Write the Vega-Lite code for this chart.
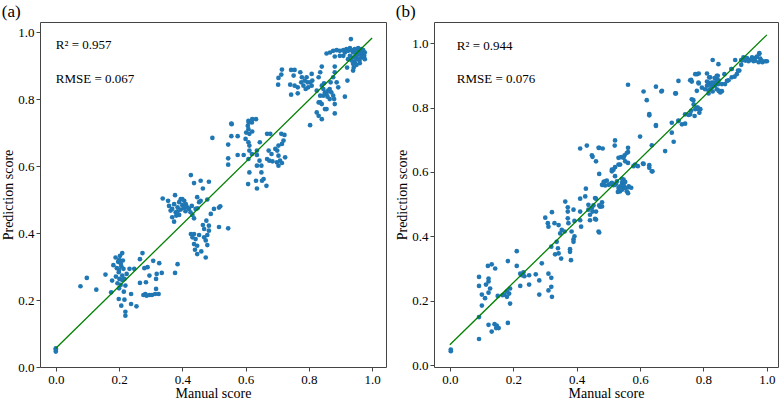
{
"$schema": "https://vega.github.io/schema/vega-lite/v6.json",
"padding": {"left": 1, "top": 2, "right": 5, "bottom": 0},
"background": "white",
"spacing": 8,
"config": {
 "font": "Liberation Serif",
 "view": {"stroke": "#444", "strokeWidth": 1},
 "axis": {"grid": false, "domain": false, "tickColor": "#444", "tickSize": 4, "labelFont": "Liberation Serif", "labelFontSize": 13, "labelColor": "black", "titleFont": "Liberation Serif", "titleFontSize": 14, "titleFontWeight": "normal", "titleColor": "black", "labelPadding": 2, "titlePadding": 2},
 "axisX": {"titlePadding": 0, "labelPadding": 2},
 "title": {"font": "Liberation Serif", "fontSize": 17, "fontWeight": "normal", "anchor": "start", "frame": "bounds", "offset": 1, "color": "black"}
},
"datasets": {
 "a": [
  {"x":0,"y":0.052},{"x":0,"y":0.046},{"x":0,"y":0.056},
  {"x":0.078,"y":0.241},{"x":0.098,"y":0.266},{"x":0.128,"y":0.231},{"x":0.157,"y":0.276},{"x":0.175,"y":0.223},{"x":0.178,"y":0.258},{"x":0.182,"y":0.304},{"x":0.189,"y":0.327},{"x":0.193,"y":0.295},{"x":0.197,"y":0.314},{"x":0.199,"y":0.283},{"x":0.201,"y":0.263},{"x":0.203,"y":0.332},{"x":0.207,"y":0.301},{"x":0.21,"y":0.34},{"x":0.21,"y":0.273},{"x":0.212,"y":0.318},{"x":0.214,"y":0.293},{"x":0.217,"y":0.263},{"x":0.22,"y":0.243},{"x":0.199,"y":0.203},{"x":0.217,"y":0.201},{"x":0.207,"y":0.183},{"x":0.22,"y":0.165},{"x":0.22,"y":0.153},{"x":0.238,"y":0.188},{"x":0.238,"y":0.218},{"x":0.224,"y":0.278},{"x":0.233,"y":0.293},{"x":0.248,"y":0.293},{"x":0.255,"y":0.181},{"x":0.266,"y":0.251},{"x":0.266,"y":0.322},{"x":0.274,"y":0.34},{"x":0.28,"y":0.295},{"x":0.285,"y":0.253},{"x":0.283,"y":0.218},{"x":0.29,"y":0.298},{"x":0.296,"y":0.273},{"x":0.277,"y":0.215},{"x":0.287,"y":0.213},{"x":0.296,"y":0.215},{"x":0.304,"y":0.215},{"x":0.314,"y":0.218},{"x":0.317,"y":0.233},{"x":0.317,"y":0.263},{"x":0.319,"y":0.278},{"x":0.308,"y":0.317},{"x":0.327,"y":0.31},{"x":0.335,"y":0.281},{"x":0.325,"y":0.218},{"x":0.377,"y":0.281},{"x":0.385,"y":0.307},
  {"x":0.2,"y":0.29},{"x":0.205,"y":0.31},{"x":0.195,"y":0.25},{"x":0.21,"y":0.26},{"x":0.2,"y":0.235},{"x":0.215,"y":0.225},{"x":0.205,"y":0.245},{"x":0.19,"y":0.27},{"x":0.2,"y":0.32},
  {"x":0.338,"y":0.503},{"x":0.355,"y":0.496},{"x":0.377,"y":0.513},{"x":0.358,"y":0.481},{"x":0.363,"y":0.467},{"x":0.368,"y":0.472},{"x":0.374,"y":0.486},{"x":0.379,"y":0.462},{"x":0.385,"y":0.477},{"x":0.39,"y":0.492},{"x":0.395,"y":0.501},{"x":0.4,"y":0.483},{"x":0.406,"y":0.496},{"x":0.411,"y":0.486},{"x":0.416,"y":0.477},{"x":0.421,"y":0.472},{"x":0.426,"y":0.462},{"x":0.43,"y":0.481},{"x":0.432,"y":0.454},{"x":0.437,"y":0.444},{"x":0.442,"y":0.472},{"x":0.448,"y":0.474},{"x":0.453,"y":0.492},{"x":0.458,"y":0.496},{"x":0.368,"y":0.447},{"x":0.374,"y":0.434},{"x":0.39,"y":0.454},{"x":0.381,"y":0.452},{"x":0.4,"y":0.501},{"x":0.385,"y":0.465},{"x":0.395,"y":0.47},{"x":0.405,"y":0.475},{"x":0.41,"y":0.465},
  {"x":0.427,"y":0.573},{"x":0.437,"y":0.549},{"x":0.458,"y":0.556},{"x":0.484,"y":0.553},{"x":0.465,"y":0.533},{"x":0.447,"y":0.507},{"x":0.479,"y":0.5},{"x":0.5,"y":0.472},{"x":0.516,"y":0.476},{"x":0.52,"y":0.48},{"x":0.49,"y":0.457},{"x":0.476,"y":0.437},{"x":0.484,"y":0.422},{"x":0.465,"y":0.424},{"x":0.469,"y":0.412},{"x":0.484,"y":0.407},{"x":0.516,"y":0.418},{"x":0.545,"y":0.414},{"x":0.427,"y":0.397},{"x":0.437,"y":0.397},{"x":0.432,"y":0.387},{"x":0.442,"y":0.382},{"x":0.453,"y":0.394},{"x":0.469,"y":0.387},{"x":0.474,"y":0.378},{"x":0.479,"y":0.394},{"x":0.437,"y":0.367},{"x":0.447,"y":0.362},{"x":0.479,"y":0.364},{"x":0.447,"y":0.337},{"x":0.474,"y":0.327},{"x":0.44,"y":0.35},{"x":0.46,"y":0.345},{"x":0.495,"y":0.684},
  {"x":0.555,"y":0.727},{"x":0.545,"y":0.664},{"x":0.555,"y":0.689},{"x":0.545,"y":0.623},{"x":0.545,"y":0.604},{"x":0.575,"y":0.689},{"x":0.575,"y":0.633},{"x":0.594,"y":0.633},{"x":0.602,"y":0.7},{"x":0.607,"y":0.72},{"x":0.609,"y":0.735},{"x":0.621,"y":0.74},{"x":0.633,"y":0.74},{"x":0.609,"y":0.71},{"x":0.612,"y":0.696},{"x":0.621,"y":0.703},{"x":0.6,"y":0.681},{"x":0.609,"y":0.671},{"x":0.612,"y":0.661},{"x":0.612,"y":0.646},{"x":0.62,"y":0.636},{"x":0.609,"y":0.621},{"x":0.636,"y":0.646},{"x":0.636,"y":0.633},{"x":0.644,"y":0.616},{"x":0.65,"y":0.601},{"x":0.636,"y":0.601},{"x":0.65,"y":0.581},{"x":0.612,"y":0.581},{"x":0.608,"y":0.546},{"x":0.633,"y":0.556},{"x":0.657,"y":0.561},{"x":0.666,"y":0.541},{"x":0.645,"y":0.671},{"x":0.636,"y":0.533},{"x":0.652,"y":0.556},{"x":0.61,"y":0.73},{"x":0.62,"y":0.73},{"x":0.556,"y":0.725},
  {"x":0.668,"y":0.696},{"x":0.678,"y":0.696},{"x":0.673,"y":0.646},{"x":0.682,"y":0.636},{"x":0.668,"y":0.621},{"x":0.675,"y":0.616},{"x":0.685,"y":0.614},{"x":0.694,"y":0.651},{"x":0.704,"y":0.661},{"x":0.713,"y":0.696},{"x":0.723,"y":0.693},{"x":0.72,"y":0.676},{"x":0.715,"y":0.666},{"x":0.704,"y":0.631},{"x":0.709,"y":0.616},{"x":0.699,"y":0.611},{"x":0.715,"y":0.609},{"x":0.7,"y":0.646},{"x":0.704,"y":0.601},{"x":0.725,"y":0.626},
  {"x":0.715,"y":0.888},{"x":0.704,"y":0.863},{"x":0.703,"y":0.843},{"x":0.713,"y":0.873},{"x":0.744,"y":0.887},{"x":0.755,"y":0.887},{"x":0.752,"y":0.87},{"x":0.741,"y":0.843},{"x":0.755,"y":0.84},{"x":0.744,"y":0.813},{"x":0.765,"y":0.817},{"x":0.773,"y":0.88},{"x":0.778,"y":0.865},{"x":0.776,"y":0.85},{"x":0.783,"y":0.84},{"x":0.787,"y":0.855},{"x":0.793,"y":0.865},{"x":0.796,"y":0.85},{"x":0.798,"y":0.835},{"x":0.809,"y":0.875},{"x":0.811,"y":0.855},{"x":0.809,"y":0.84},{"x":0.841,"y":0.897},{"x":0.836,"y":0.88},{"x":0.831,"y":0.865},{"x":0.825,"y":0.825},{"x":0.804,"y":0.85},{"x":0.79,"y":0.83},{"x":0.765,"y":0.835},
  {"x":0.841,"y":0.84},{"x":0.846,"y":0.83},{"x":0.851,"y":0.82},{"x":0.856,"y":0.815},{"x":0.861,"y":0.825},{"x":0.866,"y":0.83},{"x":0.871,"y":0.82},{"x":0.877,"y":0.81},{"x":0.88,"y":0.8},{"x":0.866,"y":0.8},{"x":0.859,"y":0.807},{"x":0.846,"y":0.81},{"x":0.836,"y":0.81},{"x":0.848,"y":0.847},{"x":0.869,"y":0.85},{"x":0.877,"y":0.865},{"x":0.888,"y":0.85},{"x":0.893,"y":0.835},{"x":0.882,"y":0.88},{"x":0.836,"y":0.79},{"x":0.841,"y":0.785},{"x":0.831,"y":0.79},{"x":0.851,"y":0.77},{"x":0.882,"y":0.785},{"x":0.882,"y":0.757},{"x":0.856,"y":0.77},{"x":0.825,"y":0.76},{"x":0.831,"y":0.75},{"x":0.841,"y":0.74},{"x":0.804,"y":0.722},{"x":0.914,"y":0.807},{"x":0.922,"y":0.855},{"x":0.882,"y":0.897},
  {"x":0.933,"y":0.979},{"x":0.856,"y":0.936},{"x":0.867,"y":0.939},{"x":0.877,"y":0.944},{"x":0.882,"y":0.927},{"x":0.888,"y":0.946},{"x":0.898,"y":0.944},{"x":0.909,"y":0.946},{"x":0.914,"y":0.939},{"x":0.919,"y":0.949},{"x":0.924,"y":0.944},{"x":0.93,"y":0.952},{"x":0.935,"y":0.946},{"x":0.94,"y":0.939},{"x":0.945,"y":0.949},{"x":0.951,"y":0.941},{"x":0.956,"y":0.952},{"x":0.961,"y":0.944},{"x":0.966,"y":0.936},{"x":0.972,"y":0.946},{"x":0.977,"y":0.939},{"x":0.975,"y":0.929},{"x":0.966,"y":0.924},{"x":0.956,"y":0.919},{"x":0.951,"y":0.929},{"x":0.94,"y":0.924},{"x":0.935,"y":0.915},{"x":0.945,"y":0.91},{"x":0.951,"y":0.902},{"x":0.94,"y":0.905},{"x":0.961,"y":0.907},{"x":0.93,"y":0.929},{"x":0.924,"y":0.919},{"x":0.909,"y":0.929},{"x":0.898,"y":0.929},{"x":0.942,"y":0.894},{"x":0.921,"y":0.894},{"x":0.94,"y":0.885},{"x":0.947,"y":0.939},{"x":0.956,"y":0.934},{"x":0.964,"y":0.932},{"x":0.972,"y":0.924},{"x":0.977,"y":0.919},{"x":0.966,"y":0.949},{"x":0.96,"y":0.915},{"x":0.95,"y":0.92},{"x":0.97,"y":0.94},{"x":0.955,"y":0.945}
 ],
 "b": [
  {"x":0.003,"y":0.048},{"x":0.003,"y":0.043},{"x":0.092,"y":0.081},{"x":0.092,"y":0.149},{"x":0.101,"y":0.185},{"x":0.092,"y":0.274},{"x":0.092,"y":0.246},{"x":0.101,"y":0.219},{"x":0.111,"y":0.208},{"x":0.114,"y":0.25},{"x":0.122,"y":0.26},{"x":0.12,"y":0.308},{"x":0.132,"y":0.313},{"x":0.143,"y":0.3},{"x":0.122,"y":0.269},{"x":0.127,"y":0.238},{"x":0.122,"y":0.225},{"x":0.122,"y":0.125},{"x":0.132,"y":0.104},{"x":0.141,"y":0.127},{"x":0.148,"y":0.123},{"x":0.154,"y":0.115},{"x":0.146,"y":0.115},{"x":0.151,"y":0.215},{"x":0.166,"y":0.217},{"x":0.172,"y":0.219},{"x":0.18,"y":0.212},{"x":0.187,"y":0.222},{"x":0.19,"y":0.191},{"x":0.19,"y":0.238},{"x":0.18,"y":0.229},{"x":0.183,"y":0.131},{"x":0.183,"y":0.323},{"x":0.211,"y":0.354},{"x":0.211,"y":0.308},{"x":0.222,"y":0.284},{"x":0.222,"y":0.246},{"x":0.227,"y":0.279},{"x":0.232,"y":0.288},{"x":0.235,"y":0.276},{"x":0.25,"y":0.279},{"x":0.25,"y":0.25},{"x":0.271,"y":0.282},{"x":0.282,"y":0.263},{"x":0.282,"y":0.219},{"x":0.29,"y":0.316},{"x":0.311,"y":0.284},{"x":0.32,"y":0.271},{"x":0.32,"y":0.243},{"x":0.311,"y":0.232},{"x":0.322,"y":0.212},
  {"x":0.301,"y":0.458},{"x":0.309,"y":0.441},{"x":0.311,"y":0.43},{"x":0.322,"y":0.475},{"x":0.32,"y":0.368},{"x":0.33,"y":0.441},{"x":0.332,"y":0.344},{"x":0.337,"y":0.383},{"x":0.341,"y":0.363},{"x":0.343,"y":0.347},{"x":0.343,"y":0.435},{"x":0.348,"y":0.409},{"x":0.351,"y":0.331},{"x":0.353,"y":0.42},{"x":0.362,"y":0.415},{"x":0.364,"y":0.508},{"x":0.372,"y":0.477},{"x":0.372,"y":0.49},{"x":0.372,"y":0.456},{"x":0.374,"y":0.441},{"x":0.379,"y":0.36},{"x":0.379,"y":0.352},{"x":0.382,"y":0.326},{"x":0.384,"y":0.415},{"x":0.39,"y":0.391},{"x":0.39,"y":0.383},{"x":0.393,"y":0.4},{"x":0.393,"y":0.448},{"x":0.39,"y":0.483},{"x":0.411,"y":0.477},{"x":0.411,"y":0.517},{"x":0.411,"y":0.45},{"x":0.414,"y":0.43},{"x":0.427,"y":0.524},{"x":0.429,"y":0.548},{"x":0.437,"y":0.498},{"x":0.437,"y":0.483},{"x":0.442,"y":0.467},{"x":0.442,"y":0.45},{"x":0.448,"y":0.488},{"x":0.458,"y":0.454},{"x":0.458,"y":0.519},{"x":0.461,"y":0.477},{"x":0.469,"y":0.415},{"x":0.474,"y":0.492},
  {"x":0.562,"y":0.871},{"x":0.611,"y":0.85},{"x":0.621,"y":0.823},{"x":0.65,"y":0.865},{"x":0.667,"y":0.85},{"x":0.629,"y":0.78},{"x":0.65,"y":0.743},{"x":0.6,"y":0.71},{"x":0.637,"y":0.683},{"x":0.52,"y":0.682},{"x":0.432,"y":0.682},{"x":0.411,"y":0.673},{"x":0.471,"y":0.675},{"x":0.482,"y":0.673},{"x":0.45,"y":0.647},{"x":0.461,"y":0.633},{"x":0.54,"y":0.646},{"x":0.551,"y":0.652},{"x":0.562,"y":0.662},{"x":0.562,"y":0.675},{"x":0.562,"y":0.628},{"x":0.532,"y":0.623},{"x":0.521,"y":0.615},{"x":0.511,"y":0.607},{"x":0.521,"y":0.587},{"x":0.471,"y":0.594},{"x":0.583,"y":0.621},{"x":0.593,"y":0.618},{"x":0.611,"y":0.625},{"x":0.629,"y":0.621},{"x":0.629,"y":0.613},{"x":0.639,"y":0.602},{"x":0.49,"y":0.571},{"x":0.482,"y":0.56},{"x":0.506,"y":0.563},{"x":0.516,"y":0.559},{"x":0.524,"y":0.563},{"x":0.543,"y":0.566},{"x":0.546,"y":0.573},{"x":0.549,"y":0.555},{"x":0.537,"y":0.555},{"x":0.501,"y":0.56},
  {"x":0.49,"y":0.558},{"x":0.48,"y":0.56},{"x":0.461,"y":0.517},{"x":0.453,"y":0.496},{"x":0.45,"y":0.477},{"x":0.471,"y":0.496},{"x":0.48,"y":0.506},{"x":0.48,"y":0.493},{"x":0.461,"y":0.452},{"x":0.471,"y":0.412},{"x":0.511,"y":0.566},{"x":0.521,"y":0.56},{"x":0.532,"y":0.55},{"x":0.537,"y":0.54},{"x":0.543,"y":0.545},{"x":0.548,"y":0.558},{"x":0.553,"y":0.55},{"x":0.558,"y":0.54},{"x":0.564,"y":0.553},{"x":0.572,"y":0.551},{"x":0.53,"y":0.538},{"x":0.548,"y":0.576},{"x":0.562,"y":0.534},
  {"x":0.711,"y":0.844},{"x":0.721,"y":0.883},{"x":0.761,"y":0.886},{"x":0.78,"y":0.904},{"x":0.784,"y":0.878},{"x":0.811,"y":0.906},{"x":0.829,"y":0.948},{"x":0.847,"y":0.935},{"x":0.818,"y":0.894},{"x":0.816,"y":0.878},{"x":0.811,"y":0.868},{"x":0.826,"y":0.878},{"x":0.821,"y":0.857},{"x":0.816,"y":0.844},{"x":0.832,"y":0.868},{"x":0.837,"y":0.878},{"x":0.842,"y":0.888},{"x":0.845,"y":0.899},{"x":0.849,"y":0.852},{"x":0.858,"y":0.851},{"x":0.847,"y":0.873},{"x":0.868,"y":0.873},{"x":0.879,"y":0.885},{"x":0.889,"y":0.894},{"x":0.889,"y":0.92},{"x":0.909,"y":0.915},{"x":0.919,"y":0.933},{"x":0.9,"y":0.948},{"x":0.919,"y":0.948},{"x":0.926,"y":0.956},{"x":0.937,"y":0.954},{"x":0.947,"y":0.948},{"x":0.953,"y":0.956},{"x":0.963,"y":0.946},{"x":0.968,"y":0.958},{"x":0.976,"y":0.967},{"x":0.979,"y":0.952},{"x":0.986,"y":0.941},{"x":0.995,"y":0.944},{"x":0.942,"y":0.944},{"x":0.958,"y":0.944},{"x":0.932,"y":0.946},{"x":0.974,"y":0.941},{"x":0.961,"y":0.953},{"x":0.866,"y":0.904},
  {"x":0.768,"y":0.823},{"x":0.782,"y":0.8},{"x":0.79,"y":0.795},{"x":0.787,"y":0.784},{"x":0.774,"y":0.795},{"x":0.758,"y":0.779},{"x":0.761,"y":0.79},{"x":0.742,"y":0.779},{"x":0.732,"y":0.748},{"x":0.721,"y":0.758},{"x":0.7,"y":0.753},{"x":0.7,"y":0.722},{"x":0.706,"y":0.694},{"x":0.679,"y":0.665},{"x":0.65,"y":0.746},{"x":0.629,"y":0.776},{"x":0.609,"y":0.626},{"x":0.637,"y":0.602},{"x":0.585,"y":0.623},{"x":0.579,"y":0.618},{"x":0.558,"y":0.659},{"x":0.548,"y":0.644},{"x":0.553,"y":0.633},{"x":0.537,"y":0.623},{"x":0.532,"y":0.644},{"x":0.521,"y":0.698},{"x":0.516,"y":0.607},{"x":0.511,"y":0.602},{"x":0.469,"y":0.675},{"x":0.448,"y":0.652},{"x":0.485,"y":0.569},{"x":0.495,"y":0.573},{"x":0.527,"y":0.571},{"x":0.543,"y":0.579},{"x":0.553,"y":0.569},{"x":0.564,"y":0.555},
  {"x":0.811,"y":0.881},{"x":0.821,"y":0.871},{"x":0.826,"y":0.862},{"x":0.832,"y":0.878},{"x":0.837,"y":0.868},{"x":0.842,"y":0.857},{"x":0.816,"y":0.854},{"x":0.829,"y":0.85},{"x":0.848,"y":0.852},{"x":0.853,"y":0.847},{"x":0.858,"y":0.873},{"x":0.821,"y":0.894},{"x":0.835,"y":0.892},{"x":0.842,"y":0.899},{"x":0.848,"y":0.885},{"x":0.805,"y":0.857},{"x":0.795,"y":0.862},{"x":0.785,"y":0.875},{"x":0.779,"y":0.852},{"x":0.774,"y":0.904},{"x":0.785,"y":0.906},{"x":0.758,"y":0.885},{"x":0.763,"y":0.881},{"x":0.713,"y":0.844},{"x":0.669,"y":0.852},{"x":0.763,"y":0.826},{"x":0.769,"y":0.81},{"x":0.779,"y":0.8},{"x":0.785,"y":0.795},{"x":0.753,"y":0.777},{"x":0.772,"y":0.774},{"x":0.742,"y":0.75},{"x":0.721,"y":0.76},{"x":0.898,"y":0.896},{"x":0.905,"y":0.904},{"x":0.913,"y":0.915},{"x":0.921,"y":0.946},{"x":0.937,"y":0.951},{"x":0.953,"y":0.954},{"x":0.968,"y":0.958},{"x":0.976,"y":0.969},{"x":0.984,"y":0.946},{"x":1.0,"y":0.944},{"x":0.888,"y":0.92},{"x":0.874,"y":0.883}
 ],
 "fitA": [{"x":0,"y":0.056},{"x":1.0,"y":0.982}],
 "fitB": [{"x":0,"y":0.063},{"x":1.0,"y":1.026}],
 "labA": [{"x":0.0,"y":0.961,"t":"R² = 0.957"},{"x":0.0,"y":0.86,"t":"RMSE = 0.067"}],
 "labB": [{"x":0.022,"y":0.99,"t":"R² = 0.944"},{"x":0.022,"y":0.8875,"t":"RMSE = 0.076"}]
},
"hconcat": [
 {
  "title": "(a)",
  "width": 346, "height": 345,
  "layer": [
   {"data": {"name": "a"}, "mark": {"type": "circle", "size": 22, "color": "#1f77b4", "opacity": 1},
    "encoding": {
     "x": {"field": "x", "type": "quantitative", "scale": {"domain": [-0.05, 1.044], "nice": false, "zero": false}, "axis": {"values": [0, 0.2, 0.4, 0.6, 0.8, 1.0], "format": ".1f", "title": "Manual score"}},
     "y": {"field": "y", "type": "quantitative", "scale": {"domain": [0, 1.03], "nice": false, "zero": false}, "axis": {"values": [0, 0.2, 0.4, 0.6, 0.8, 1.0], "format": ".1f", "title": "Prediction score"}}
    }},
   {"data": {"name": "fitA"}, "mark": {"type": "line", "color": "green", "strokeWidth": 1.3},
    "encoding": {"x": {"field": "x", "type": "quantitative"}, "y": {"field": "y", "type": "quantitative"}}},
   {"data": {"name": "labA"}, "mark": {"type": "text", "align": "left", "baseline": "middle", "fontSize": 13, "font": "Liberation Serif", "color": "black"},
    "encoding": {"x": {"field": "x", "type": "quantitative"}, "y": {"field": "y", "type": "quantitative"}, "text": {"field": "t"}}}
  ]
 },
 {
  "title": "(b)",
  "width": 344, "height": 345,
  "layer": [
   {"data": {"name": "b"}, "mark": {"type": "circle", "size": 22, "color": "#1f77b4", "opacity": 1},
    "encoding": {
     "x": {"field": "x", "type": "quantitative", "scale": {"domain": [-0.05, 1.035], "nice": false, "zero": false}, "axis": {"values": [0, 0.2, 0.4, 0.6, 0.8, 1.0], "format": ".1f", "title": "Manual score"}},
     "y": {"field": "y", "type": "quantitative", "scale": {"domain": [-0.006, 1.066], "nice": false, "zero": false}, "axis": {"values": [0, 0.2, 0.4, 0.6, 0.8, 1.0], "format": ".1f", "title": "Prediction score"}}
    }},
   {"data": {"name": "fitB"}, "mark": {"type": "line", "color": "green", "strokeWidth": 1.3},
    "encoding": {"x": {"field": "x", "type": "quantitative"}, "y": {"field": "y", "type": "quantitative"}}},
   {"data": {"name": "labB"}, "mark": {"type": "text", "align": "left", "baseline": "middle", "fontSize": 13, "font": "Liberation Serif", "color": "black"},
    "encoding": {"x": {"field": "x", "type": "quantitative"}, "y": {"field": "y", "type": "quantitative"}, "text": {"field": "t"}}}
  ]
 }
]
}
